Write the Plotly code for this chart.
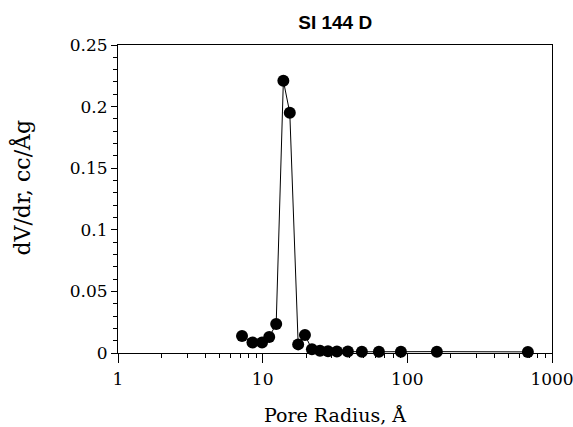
import plotly.graph_objects as go

pore_radius = [7.2, 8.5, 9.9, 11.1, 12.4, 13.9, 15.4, 17.6, 19.6, 21.9, 24.9, 28.3, 32.6,
               38.8, 48.5, 63.6, 90.3, 160, 681]
dvdr = [0.0138, 0.0085, 0.0085, 0.013, 0.0235, 0.221, 0.195, 0.007, 0.0146, 0.003,
        0.0018, 0.0015, 0.0013, 0.0012, 0.001, 0.0011, 0.0011, 0.0011, 0.0009]
x_tickvals = [1, 10, 100, 1000]
x_ticktext = ["1", "10", "100", "1000"]

serif = "DejaVu Serif, serif"

fig = go.Figure()
fig.add_trace(go.Scatter(
    x=pore_radius, y=dvdr, mode="lines+markers",
    line=dict(color="black", width=1),
    marker=dict(color="black", size=12),
    cliponaxis=False, showlegend=False,
))

fig.update_layout(
    width=573, height=427,
    margin=dict(l=118, r=21, t=45, b=74, autoexpand=False),
    paper_bgcolor="white", plot_bgcolor="white",
    title=dict(text="<b>SI 144 D</b>", x=0.585, xanchor="center", y=0.948, yanchor="middle",
               font=dict(family="Liberation Sans, Arial, sans-serif", size=19, color="black")),
    font=dict(family=serif, size=17, color="black"),
)
fig.add_annotation(
    text="dV/dr, cc/Åg", textangle=-90, xref="paper", yref="paper",
    x=-0.222, y=0.536, xanchor="center", yanchor="middle", showarrow=False,
    font=dict(family=serif, size=22, color="black"),
)
fig.update_xaxes(
    type="log", range=[0, 3], tickvals=x_tickvals, ticktext=x_ticktext,
    ticks="outside", ticklen=9, tickwidth=1, tickcolor="black",
    minor=dict(ticks="outside", ticklen=4, tickwidth=1, tickcolor="black", dtick="D1", showgrid=False),
    showline=True, linecolor="black", linewidth=1, mirror=True,
    showgrid=False, zeroline=False, automargin=False, ticklabelstandoff=2,
    ticklabeloverflow="allow",
    title=dict(text="Pore Radius, Å", font=dict(family=serif, size=19), standoff=20),
    tickfont=dict(family=serif, size=17),
)
fig.update_yaxes(
    range=[0, 0.25], dtick=0.05, tick0=0,
    ticks="outside", ticklen=6, tickwidth=1, tickcolor="black",
    minor=dict(ticks="outside", ticklen=4, tickwidth=1, tickcolor="black", dtick=0.01, showgrid=False),
    showline=True, linecolor="black", linewidth=1, mirror=True,
    showgrid=False, zeroline=False, automargin=False,
    tickfont=dict(family=serif, size=17),
)

fig.write_html("out.html")
